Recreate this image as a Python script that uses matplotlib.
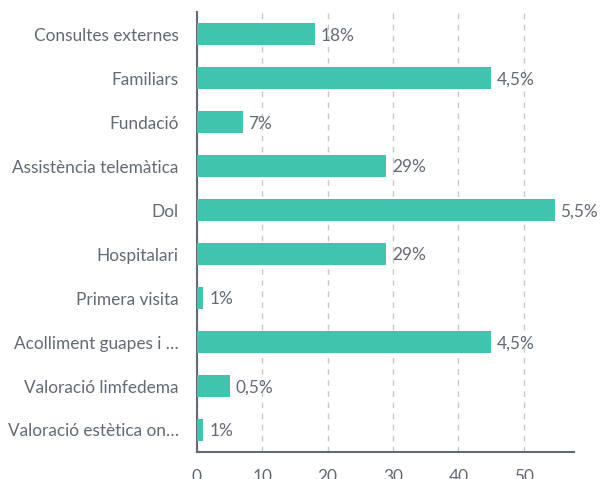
import matplotlib.pyplot as plt

categories = ["Consultes externes", "Familiars", "Fundació", "Assistència telemàtica",
              "Dol", "Hospitalari", "Primera visita", "Acolliment guapes i …",
              "Valoració limfedema", "Valoració estètica on…"]
values = [18, 45, 7, 29, 54.7, 29, 1, 45, 5, 1]
bar_labels = ["18%", "4,5%", "7%", "29%", "5,5%", "29%", "1%", "4,5%", "0,5%", "1%"]
xticks = [0, 10, 20, 30, 40, 50]

plt.rcParams['font.family'] = ['Lato', 'DejaVu Sans']
text_color = '#626a75'

fig = plt.figure(figsize=(6, 4.79), dpi=100)
ax = fig.add_axes([0.328, 0.0564, 0.629, 0.918])

y = list(range(len(categories)))
ax.barh(y, values, height=0.5, color='#40c4ae', zorder=3)
for yi, v, lab in zip(y, values, bar_labels):
    ax.text(v + 0.9, yi + 0.03, lab, va='center', ha='left', fontsize=12.4,
            color=text_color, zorder=4)

ax.set_ylim(len(categories) - 0.5, -0.5)
ax.set_xlim(0, 57.7)
ax.set_yticks(y)
ax.set_yticklabels(categories)
ax.set_xticks(xticks)
ax.tick_params(axis='both', length=0, labelsize=12.4, labelcolor=text_color)
ax.tick_params(axis='y', pad=13)
ax.tick_params(axis='x', pad=12)

ax.grid(axis='x', linestyle=(0, (4, 4)), color='#c8c8c8', linewidth=1, zorder=0)
for s in ['top', 'right']:
    ax.spines[s].set_visible(False)
for s in ['left', 'bottom']:
    ax.spines[s].set_color('#626a75')
    ax.spines[s].set_linewidth(1.5)

plt.savefig('out.png', dpi=100)
